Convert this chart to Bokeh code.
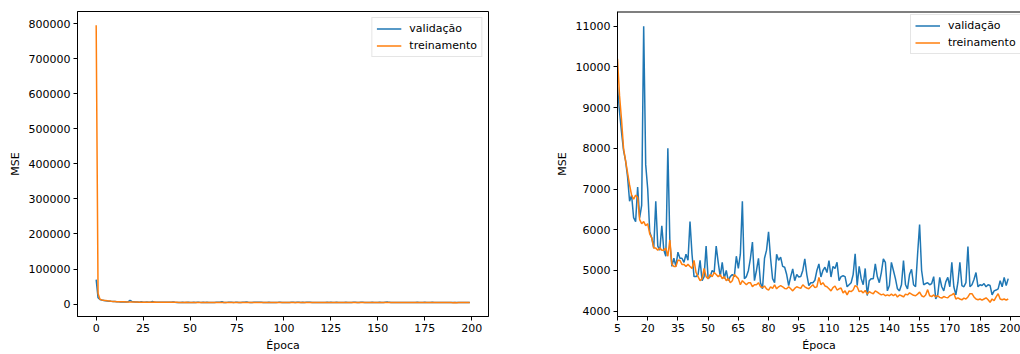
from bokeh.plotting import figure
from bokeh.layouts import row
from bokeh.models import Range1d, FixedTicker, BasicTickFormatter, Legend, LegendItem, Span
from bokeh.embed import file_html
from bokeh.resources import INLINE

# ---- data ----
epochs = list(range(200))

validacao = [
    70000, 18000, 13000, 11500, 10500,
    9500, 8900, 8400, 7950, 7700, 7300, 6700, 6850, 6300, 6200,
    7050, 6300, 6600, 11000, 7600, 7000, 5950, 5800, 5550, 6700,
    5600, 5500, 6100, 5500, 5350, 8000, 5700, 5100, 5300, 5100,
    5450, 5300, 5300, 5200, 5400, 5250, 6200, 5400, 4850, 4850,
    4900, 5250, 4750, 4850, 5600, 4800, 4850, 5000, 4950, 5600,
    5200, 4850, 5200, 4800, 5000, 4750, 4850, 4900, 4850, 5350,
    5050, 5400, 6700, 4800, 4850, 5000, 5300, 5700, 4750, 5000,
    5300, 4700, 4550, 5300, 5500, 5950, 5300, 4800, 4700, 5400,
    5250, 5330, 5100, 5080, 4900, 4630, 4850, 5040, 4750, 4900,
    4840, 4850, 5000, 5285, 4900, 4630, 4700, 4700, 4760, 5000,
    5160, 4840, 5000, 5080, 4950, 5245, 4840, 5100, 5050, 5200,
    4750, 4850, 4870, 4850, 4600, 4650, 4700, 4900, 5410, 4630,
    5100, 4800, 4650, 5050, 4385, 4750, 4800, 4800, 5160, 4850,
    4700, 4950, 5285, 5200, 4500, 4630, 5200, 5000, 4800, 4550,
    4500, 4650, 5245, 4650, 4550, 4900, 5030, 4650, 4600, 5400,
    6130, 5000, 4650, 4680, 4700, 4650, 4680, 4850, 4300, 4400,
    4830, 4600, 4500, 4720, 4830, 4600, 5200, 4600, 4400, 4700,
    5200, 4630, 4600, 4700, 5590, 4600, 4650, 4780, 4950, 4600,
    4650, 4630, 4680, 4600, 4650, 4630, 4400, 4500, 4520, 4550,
    4750, 4600, 4830, 4630, 4800,
]

treinamento = [
    795000, 30000, 14000, 12000, 11000,
    10200, 9300, 8700, 8000, 7700, 7400, 7100, 6850, 6750, 6850,
    6800, 6250, 6150, 6200, 6100, 6150, 5900, 5800, 5550, 5550,
    5500, 5550, 5500, 5500, 5550, 5350, 5750, 5150, 5100, 5100,
    5250, 5250, 5150, 5150, 5100, 5150, 5100, 5050, 5250, 4950,
    4850, 4750, 4800, 5050, 4850, 4800, 4900, 4850, 4950, 4900,
    4850, 4900, 4800, 4850, 4750, 4800, 4700, 4750, 4900, 4850,
    4800, 4650, 4750, 4700, 4650, 4700, 4700, 4600, 4650, 4650,
    4700, 4600, 4580, 4620, 4550, 4520, 4600, 4560, 4650, 4550,
    4600, 4630, 4600, 4560, 4550, 4600, 4550, 4500, 4560, 4600,
    4580, 4560, 4650, 4600, 4570, 4550, 4600, 4650, 4580, 4600,
    4830, 4650, 4700, 4620, 4600, 4550, 4500, 4580, 4620, 4520,
    4550, 4570, 4450, 4500, 4400, 4500, 4480, 4520, 4630, 4600,
    4480, 4500, 4450, 4510, 4420, 4480, 4450, 4430, 4500, 4470,
    4430, 4400, 4420, 4380, 4400, 4380, 4420, 4380, 4420, 4350,
    4400, 4380, 4350, 4420, 4400, 4450, 4420, 4390, 4380, 4420,
    4470, 4380, 4350, 4400, 4530, 4380, 4360, 4400, 4350, 4380,
    4340, 4320, 4360, 4340, 4330, 4380, 4400, 4440, 4300, 4330,
    4300, 4280, 4320, 4300, 4350, 4430, 4430, 4350, 4300, 4280,
    4300, 4270, 4300, 4330, 4280, 4220, 4300, 4260, 4350, 4430,
    4300, 4280, 4300, 4270, 4300,
]

series_names = ["validação", "treinamento"]
left_xticks = [0, 25, 50, 75, 100, 125, 150, 175, 200]
left_yticks = [0, 100000, 200000, 300000, 400000, 500000, 600000, 700000, 800000]
right_xticks = list(range(5, 201, 15))
right_yticks = [4000, 5000, 6000, 7000, 8000, 9000, 10000, 11000]
start_zoom = 5

BLUE = "#1f77b4"
ORANGE = "#ff7f0e"
FONT = "DejaVu Sans"
FS = "11px"


def style(p, xticks, yticks):
    p.xgrid.visible = False
    p.ygrid.visible = False
    for ax in (p.xaxis[0], p.yaxis[0]):
        ax.axis_line_color = "black"
        ax.major_tick_line_color = "black"
        ax.major_tick_out = 4
        ax.major_tick_in = 0
        ax.minor_tick_line_color = None
        ax.major_label_text_font = FONT
        ax.major_label_text_font_size = FS
        ax.major_label_text_color = "black"
        ax.axis_label_text_font = FONT
        ax.axis_label_text_font_size = FS
        ax.axis_label_text_font_style = "normal"
        ax.axis_label_text_color = "black"
        ax.major_label_standoff = 3
        ax.axis_label_standoff = 4
    p.xaxis[0].ticker = FixedTicker(ticks=xticks)
    p.yaxis[0].ticker = FixedTicker(ticks=yticks)
    p.yaxis[0].formatter = BasicTickFormatter(use_scientific=False)
    p.xaxis[0].axis_label = "Época"
    p.yaxis[0].axis_label = "MSE"


def add_legend(p, r1, r2, location, margin):
    leg = Legend(items=[LegendItem(label=series_names[0], renderers=[r1]),
                        LegendItem(label=series_names[1], renderers=[r2])],
                 location=location)
    leg.label_text_font = FONT
    leg.label_text_font_size = FS
    leg.label_text_color = "black"
    leg.glyph_width = 25
    leg.glyph_height = 13
    leg.label_height = 13
    leg.spacing = 4
    leg.padding = 4
    leg.label_standoff = 8
    leg.margin = margin
    leg.border_line_color = "#cccccc"
    leg.background_fill_alpha = 0.8
    p.add_layout(leg)


# ---- left: full range ----
p1 = figure(width=540, height=354, output_backend="svg", toolbar_location=None,
            x_range=Range1d(-9.95, 208.95), y_range=Range1d(-35300, 834500),
            min_border_left=77, min_border_right=52, min_border_top=11, min_border_bottom=38)
style(p1, left_xticks, left_yticks)
p1.outline_line_color = "black"
p1.outline_line_width = 1
r1 = p1.line(epochs, validacao, line_color=BLUE, line_width=1.5)
r2 = p1.line(epochs, treinamento, line_color=ORANGE, line_width=1.5)
add_legend(p1, r1, r2, "top_right", 6)

# ---- right: zoom from epoch 5 ----
ep_z = epochs[start_zoom:]
val_z = validacao[start_zoom:]
tr_z = treinamento[start_zoom:]
y_top = 11361
p2 = figure(width=480, height=354, output_backend="svg", toolbar_location=None,
            x_range=Range1d(5, 205.1), y_range=Range1d(3870, y_top),
            min_border_left=77, min_border_right=0, min_border_top=11, min_border_bottom=38)
style(p2, right_xticks, right_yticks)
p2.outline_line_color = None
p2.add_layout(Span(location=y_top, dimension="width", line_color="black", line_width=2))
q1 = p2.line(ep_z, val_z, line_color=BLUE, line_width=1.5)
q2 = p2.line(ep_z, tr_z, line_color=ORANGE, line_width=1.5)
add_legend(p2, q1, q2, (293, 262), 0)

layout = row(p1, p2)
open("out.html", "w").write(file_html(layout, INLINE))
